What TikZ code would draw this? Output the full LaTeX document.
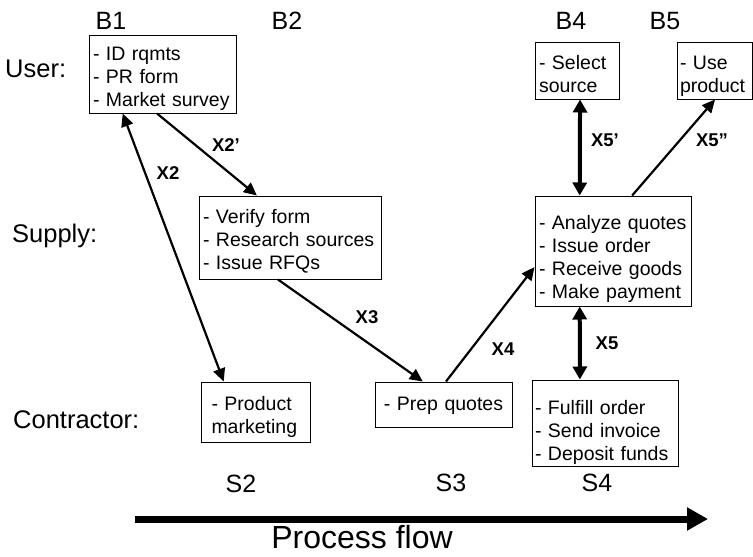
\documentclass[tikz,border=0pt]{standalone}
\usepackage{fontspec}
\setmainfont{Liberation Sans}
\usetikzlibrary{arrows.meta,calc}
\begin{document}
\begin{tikzpicture}[x=1pt,y=-1pt,
  box/.style={draw, line width=1pt, inner sep=0pt, align=left,
    font=\fontsize{19.5}{23}\selectfont},
  % first-line height and last-line depth, so the lines sit where they should
  pad/.style 2 args={execute at begin node={\rule{0pt}{#1pt}},
    execute at end node={\rule[-#2pt]{0pt}{#2pt}}},
  rowlabel/.style={anchor=west, inner sep=0pt, font=\fontsize{25.5}{30}\selectfont},
  stagelabel/.style={inner sep=0pt, font=\fontsize{25}{30}\selectfont},
  xlabel/.style={inner sep=0pt, font=\fontsize{18.5}{22}\bfseries\selectfont},
  conn/.style={line width=2.2pt, -{Triangle[length=13pt,width=12pt]}},
  connboth/.style={line width=2.2pt, {Triangle[length=13pt,width=12pt]}-{Triangle[length=13pt,width=12pt]}},
  thickboth/.style={line width=4pt, {Triangle[length=13pt,width=14pt]}-{Triangle[length=13pt,width=14pt]}},
  flow/.style={line width=7pt, -{Triangle[length=21pt,width=22pt]}}
]
\useasboundingbox (0,0) rectangle (753,557);

% lane labels
\node[rowlabel] (user) at (5,69) {User:};
\node[rowlabel] (supply) at (12,236) {Supply:};
\node[rowlabel] (contractor) at (13,420) {Contractor:};

% stage labels
\node[stagelabel] (lb1) at (111,21) {B1};
\node[stagelabel] (lb2) at (287,21) {B2};
\node[stagelabel] (lb4) at (571,21) {B4};
\node[stagelabel] (lb5) at (665,21) {B5};
\node[stagelabel] (ls2) at (241,484) {S2};
\node[stagelabel] (ls3) at (451,483) {S3};
\node[stagelabel] (ls4) at (597,483) {S4};

% activity boxes
\node[box, pad={25}{7}, minimum width=147, minimum height=78, text width=139pt] (b1) at (162.5,74)
  {- ID rqmts\\- PR form\\- Market survey};
\node[box, pad={27}{10}, minimum width=182, minimum height=83, text width=174pt] (b2) at (290,237.5)
  {- Verify form\\- Research sources\\- Issue RFQs};
\node[box, pad={28}{9}, minimum width=109, minimum height=60, text width=88pt] (s2) at (255.5,412)
  {- Product\\marketing};
\node[box, align=center, pad={28}{17}, minimum width=137, minimum height=45, text width=131pt] (s3) at (443.5,404.5)
  {- Prep quotes};
\node[box, pad={34}{6}, minimum width=146, minimum height=86, text width=140pt] (s4) at (605,423)
  {- Fulfill order\\- Send invoice\\- Deposit funds};
\node[box, pad={27}{7}, minimum width=84, minimum height=57, text width=76pt] (b4) at (577,70.5)
  {- Select\\source};
\node[box, pad={27}{7}, minimum width=75, minimum height=57, text width=69pt] (b5) at (714.5,70.5)
  {- Use\\product};
\node[box, pad={33}{8}, minimum width=156, minimum height=110, text width=148pt] (b3) at (613,251)
  {- Analyze quotes\\- Issue order\\- Receive goods\\- Make payment};

% transactions
\draw[connboth] ($(b1.south west)!0.231!(b1.south east)$) -- ($(s2.north west)!0.211!(s2.north east)$);
\draw[conn] ($(b1.south west)!0.463!(b1.south east)$) -- ($(b2.north west)!0.319!(b2.north east)$);
\draw[conn] ($(b2.south west)!0.434!(b2.south east)$) -- ($(s3.north west)!0.35!(s3.north east)$);
\draw[conn] ($(s3.north west)!0.518!(s3.north east)$) -- ($(b3.north west)!0.645!(b3.south west)$);
\draw[thickboth] ($(b3.south west)!0.288!(b3.south east)$) -- ($(s4.north west)!0.329!(s4.north east)$);
\draw[thickboth] ($(b4.south west)!0.536!(b4.south east)$) -- ($(b3.north west)!0.288!(b3.north east)$);
\draw[conn] ($(b3.north west)!0.622!(b3.north east)$) -- ($(b5.south west)!0.507!(b5.south east)$);

\node[xlabel] (x2) at (168,173) {X2};
\node[xlabel] (x2p) at (226,145) {X2’};
\node[xlabel] (x3) at (367,317) {X3};
\node[xlabel] (x4) at (503,349) {X4};
\node[xlabel] (x5) at (607,343) {X5};
\node[xlabel] (x5p) at (605,140) {X5’};
\node[xlabel] (x5pp) at (712,140) {X5”};

% process flow arrow
\coordinate (flowstart) at (135,519);
\coordinate (flowend) at (708,519);
\draw[flow] (flowstart) -- (flowend);
\node[anchor=base, inner sep=0pt, font=\fontsize{32}{38}\selectfont] (flowlabel) at (362,548) {Process flow};
\end{tikzpicture}
\end{document}
